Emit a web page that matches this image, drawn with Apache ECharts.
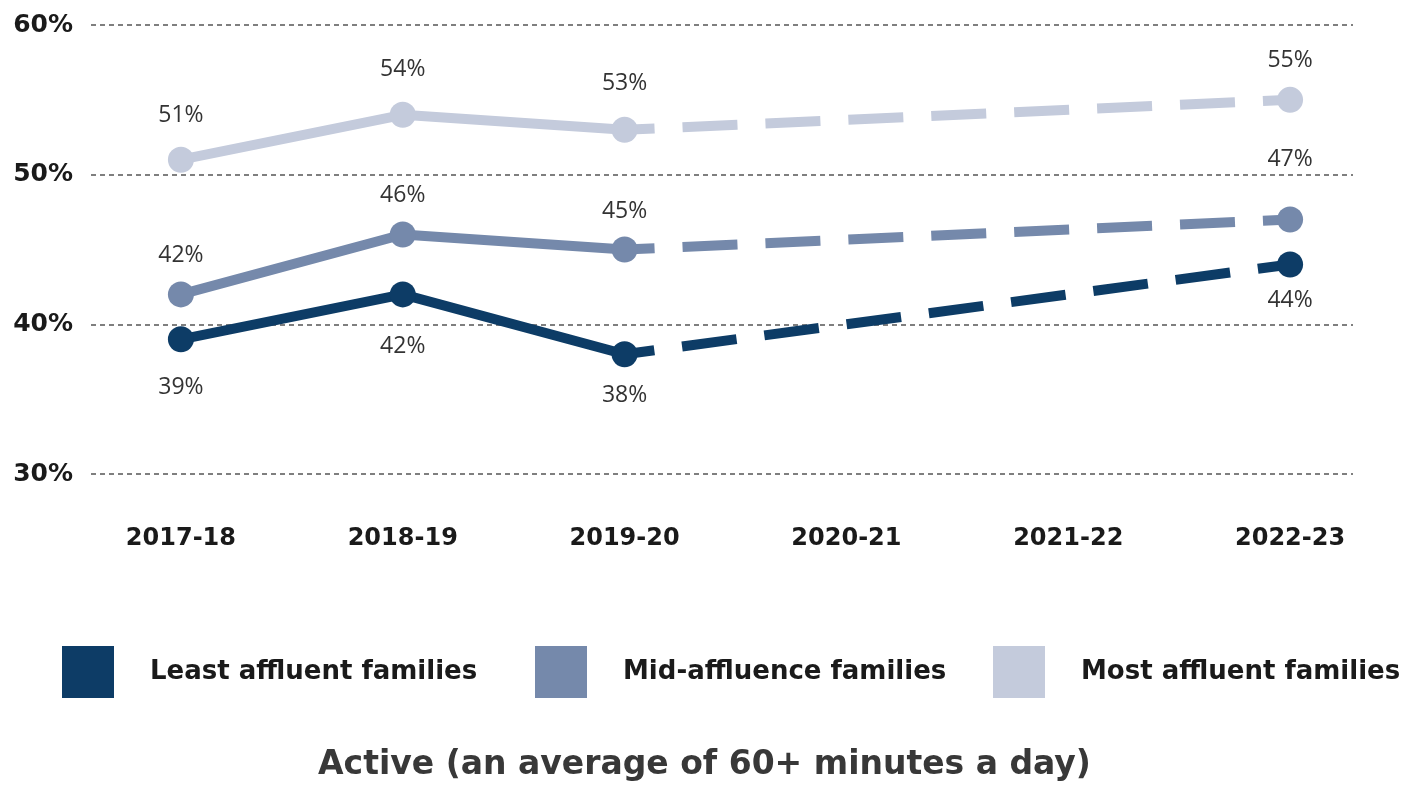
<!DOCTYPE html>
<html>
<head>
<meta charset="utf-8">
<title>Active (an average of 60+ minutes a day)</title>
<script src="https://cdn.jsdelivr.net/npm/echarts@6/dist/echarts.min.js"></script>
<style>
  html, body { margin: 0; padding: 0; background: #ffffff; }
  #chart { width: 1409px; height: 788px; }
</style>
</head>
<body>
<div id="chart"></div>
<script>
// Survey years
const categories = ['2017-18', '2018-19', '2019-20', '2020-21', '2021-22', '2022-23'];

// Share of children who are active (%), by family affluence; no survey in the gap years
const leastAffluent = [39, 42, 38, null, null, 44];
const midAffluence  = [42, 46, 45, null, null, 47];
const mostAffluent  = [51, 54, 53, null, null, 55];

const seriesNames = ['Least affluent families', 'Mid-affluence families', 'Most affluent families'];
const chartTitle = 'Active (an average of 60+ minutes a day)';

// Index of the last year before the gap: solid up to here, dashed afterwards
const lastContinuous = 2;

const BOLD_FONT = '"DejaVu Sans", Verdana, sans-serif';
const LABEL_FONT = '"Open Sans", "Noto Sans", sans-serif';
const colors = ['#0d3c66', '#7589ab', '#c4cbdc'];

// Label placement per group (position, distance from marker, one per point)
const labelPlacement = [
  { position: 'bottom', distance: [24, 28, 17, 0, 0, 11] },
  { position: 'top',    distance: [14, 15, 14, 0, 0, 36] },
  { position: 'top',    distance: [20, 21, 22, 0, 0, 15] }
];

const groups = [leastAffluent, midAffluence, mostAffluent];

function labelFor(g, i) {
  return {
    show: true,
    position: labelPlacement[g].position,
    distance: labelPlacement[g].distance[i],
    formatter: '{c}%',
    color: '#333333',
    fontFamily: LABEL_FONT,
    fontSize: 23
  };
}

const series = [];
groups.forEach((values, g) => {
  // measured years, solid line
  series.push({
    name: seriesNames[g],
    type: 'line',
    xAxisIndex: 1,
    yAxisIndex: 1,
    z: 4,
    symbol: 'circle',
    symbolSize: 26,
    lineStyle: { color: colors[g], width: 10, cap: 'butt' },
    itemStyle: { color: colors[g] },
    data: values.map((v, i) => i <= lastContinuous ? { value: v, label: labelFor(g, i) } : null),
    animation: false
  });
  // across the gap to the latest year, dashed line
  series.push({
    name: seriesNames[g],
    type: 'line',
    xAxisIndex: 1,
    yAxisIndex: 1,
    z: 3,
    connectNulls: true,
    symbol: 'none',
    lineStyle: { color: colors[g], width: 10, type: [55, 28], dashOffset: 25, cap: 'butt' },
    itemStyle: { color: colors[g] },
    data: values.map((v, i) => {
      if (i < lastContinuous || v == null) return null;
      if (i === lastContinuous) return v;
      return { value: v, symbol: 'circle', symbolSize: 26, label: labelFor(g, i) };
    }),
    animation: false
  });
});

const legendLeft = [62, 535, 993];
const legends = seriesNames.map((name, g) => ({
  data: [{ name: name, icon: 'rect', itemStyle: { color: colors[g] } }],
  left: legendLeft[g],
  top: 646,
  padding: 0,
  itemWidth: 52,
  itemHeight: 52,
  itemGap: 0,
  selectedMode: false,
  textStyle: { fontFamily: BOLD_FONT, fontSize: 26, fontWeight: 'bold', color: '#1a1a1a', padding: [0, 0, 0, 31] }
}));

const option = {
  backgroundColor: '#ffffff',
  animation: false,
  title: {
    text: chartTitle,
    left: 'center',
    top: 749,
    padding: 0,
    textStyle: { fontFamily: BOLD_FONT, fontSize: 33, fontWeight: 'bold', color: '#383838' }
  },
  legend: legends,
  grid: [
    // frame for the value gridlines and percentage labels
    { left: 91, right: 56, top: 25, bottom: 314 },
    // frame holding the survey-year bands and the lines
    { left: 70, right: 8, top: 25, bottom: 314 }
  ],
  xAxis: [
    { type: 'value', gridIndex: 0, min: 0, max: 1, show: false },
    {
      type: 'category',
      gridIndex: 1,
      data: categories,
      boundaryGap: true,
      axisLine: { show: false },
      axisTick: { show: false },
      axisLabel: {
        margin: 53,
        fontFamily: BOLD_FONT,
        fontSize: 24,
        fontWeight: 'bold',
        color: '#1a1a1a'
      }
    }
  ],
  yAxis: [
    {
      type: 'value',
      gridIndex: 0,
      min: 30,
      max: 60,
      interval: 10,
      axisLine: { show: false },
      axisTick: { show: false },
      axisLabel: {
        margin: 18,
        formatter: '{value}%',
        fontFamily: BOLD_FONT,
        fontSize: 25,
        fontWeight: 'bold',
        color: '#1a1a1a'
      },
      splitLine: { lineStyle: { color: '#555555', width: 1.5, type: [5, 4] } }
    },
    { type: 'value', gridIndex: 1, min: 30, max: 60, interval: 10, show: false, splitLine: { show: false } }
  ],
  series: series
};

const chart = echarts.init(document.getElementById('chart'), null, { renderer: 'canvas' });
chart.setOption(option);
</script>
</body>
</html>
